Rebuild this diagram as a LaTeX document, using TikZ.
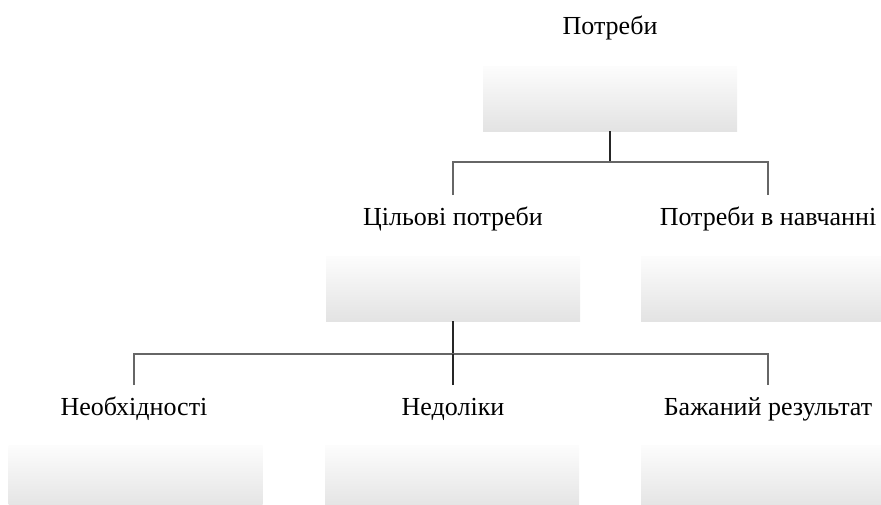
\documentclass[tikz,border=0pt]{standalone}
\usepackage{fontspec}
\setmainfont{Liberation Serif}
\tikzset{
  lbl/.style={font=\fontsize{13}{15}\selectfont, anchor=base, text height=9pt, text depth=3pt, inner sep=0pt, outer sep=6pt},
  box/.style={minimum width=127pt, minimum height=32.5pt, inner sep=0pt, top color=gray!2, bottom color=gray!22, draw=none},
  conn/.style={draw=black!60, line width=0.8pt},
  drop/.style={conn, draw=black!85},
}
\begin{document}
\begin{tikzpicture}[x=0.5pt,y=-0.5pt]
        \useasboundingbox (0,0) rectangle (881,504);
        \clip (0,0) rectangle (881,504);
        % root
        \node[lbl] (lpot) at (610,34) {Потреби};
        \node[box] (bpot) at (610,98.5) {};
        \coordinate (bar1) at (610,162);
        % second level
        \node[lbl] (lcil) at (453,225) {Цільові потреби};
        \node[box] (bcil) at (453,288.5) {};
        \node[lbl] (lnav) at (768,225) {Потреби в навчанні};
        \node[box] (bnav) at (768,288.5) {};
        \coordinate (bar2) at (453,354);
        % third level
        \node[lbl] (lneo) at (134,415) {Необхідності};
        \node[box] (bneo) at (135.5,477.5) {};
        \node[lbl] (lned) at (453,415) {Недоліки};
        \node[box] (bned) at (452,477.5) {};
        \node[lbl] (lbaz) at (768,415) {Бажаний результат};
        \node[box] (bbaz) at (768,477.5) {};
        % connectors
        \draw[drop] (bpot.south) -- (bar1);
        \draw[conn] (lcil.north) |- (bar1) -| (lnav.north);
        \draw[drop] (bcil.south) -- (bar2);
        \draw[conn] (lneo.north) |- (bar2) -| (lbaz.north);
        \draw[drop] (lned.north) -- (bar2);
\end{tikzpicture}
\end{document}
